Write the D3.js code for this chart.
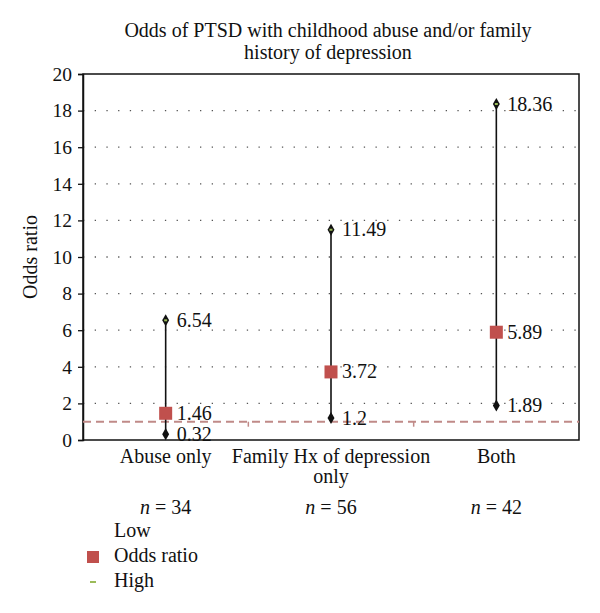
<!DOCTYPE html>
<html><head><meta charset="utf-8">
<script src="https://cdn.jsdelivr.net/npm/d3@7"></script>
<style>body{margin:0;background:#fff}svg{display:block}</style>
</head><body>
<script>
const categories = [["Abuse only"], ["Family Hx of depression", "only"], ["Both"]];
const nValues = [34, 56, 42];
const lowValues = [0.32, 1.2, 1.89];
const oddsValues = [1.46, 3.72, 5.89];
const highValues = [6.54, 11.49, 18.36];
const lowLabels = ["0.32", "1.2", "1.89"];
const oddsLabels = ["1.46", "3.72", "5.89"];
const highLabels = ["6.54", "11.49", "18.36"];
const yTicks = [0, 2, 4, 6, 8, 10, 12, 14, 16, 18, 20];
const refValue = 1;
const titleLines = ["Odds of PTSD with childhood abuse and/or family", "history of depression"];
const legendItems = ["Low", "Odds ratio", "High"];

const FONT = "'Liberation Serif'";
const FS = 20;
const W = 600, H = 613;
const svg = d3.select("body").append("svg").attr("width", W).attr("height", H)
  .attr("font-family", FONT);
const m = {l: 83, r: 21, t: 74, b: 173};
const x = d3.scaleBand().domain(d3.range(categories.length)).range([m.l, W - m.r]);
const y = d3.scaleLinear().domain([0, 20]).range([H - m.b, m.t]);
const cx = i => x(i) + x.bandwidth() / 2;
const T = (sel) => sel.attr("font-family", FONT).attr("fill", "#111");

// title
T(svg.selectAll("text.title").data(titleLines).join("text")
  .attr("x", 328).attr("y", (d, i) => 37 + i * 22).attr("text-anchor", "middle")
  .attr("font-size", FS).text(d => d));

// gridlines dotted
svg.append("g").selectAll("line").data(yTicks.filter(t => t > 0 && t < 20)).join("line")
  .attr("x1", m.l).attr("x2", W - m.r).attr("y1", d => y(d)).attr("y2", d => y(d))
  .attr("stroke", "#555").attr("stroke-width", 1.3).attr("stroke-dasharray", "1.3,10.4");

// frame
svg.append("rect").attr("x", m.l).attr("y", m.t).attr("width", W - m.r - m.l).attr("height", y(0) - m.t)
  .attr("fill", "none").attr("stroke", "#111").attr("stroke-width", 1.5);

// y axis
const yAxis = svg.append("g").attr("transform", `translate(${m.l},0)`)
  .call(d3.axisLeft(y).tickValues(yTicks).tickSize(5).tickPadding(6));
yAxis.attr("font-family", FONT).attr("font-size", 19.5);
yAxis.select(".domain").attr("stroke", "#111").attr("stroke-width", 1.5);
yAxis.selectAll(".tick line").attr("stroke", "#111").attr("stroke-width", 1.3);
T(yAxis.selectAll(".tick text")).attr("font-size", 19.5);

T(svg.append("text").attr("transform", `translate(37,${(y(0) + y(20)) / 2}) rotate(-90)`)
  .attr("text-anchor", "middle").attr("font-size", FS).text("Odds ratio"));

// reference dashed line
svg.append("line").attr("x1", m.l).attr("x2", W - m.r).attr("y1", y(refValue)).attr("y2", y(refValue))
  .attr("stroke", "#c08a88").attr("stroke-width", 2).attr("stroke-dasharray", "8,5");
svg.append("g").selectAll("line").data([1, 2]).join("line")
  .attr("x1", d => x(d)).attr("x2", d => x(d)).attr("y1", y(refValue)).attr("y2", y(refValue) + 5)
  .attr("stroke", "#c08a88").attr("stroke-width", 1.5);

// whiskers
const g = svg.append("g");
g.selectAll("line.w").data(d3.range(categories.length)).join("line")
  .attr("x1", cx).attr("x2", cx).attr("y1", i => y(lowValues[i])).attr("y2", i => y(highValues[i]))
  .attr("stroke", "#111").attr("stroke-width", 1.6);

const diamond = d3.symbol().type(d3.symbolDiamond).size(42);
g.selectAll("path.low").data(d3.range(categories.length)).join("path")
  .attr("d", diamond).attr("transform", i => `translate(${cx(i)},${y(lowValues[i])})`).attr("fill", "#111");
g.selectAll("path.high").data(d3.range(categories.length)).join("path")
  .attr("d", diamond).attr("transform", i => `translate(${cx(i)},${y(highValues[i])})`).attr("fill", "#111");
g.selectAll("rect.hc").data(d3.range(categories.length)).join("rect")
  .attr("x", i => cx(i) - 1.5).attr("y", i => y(highValues[i]) - 1).attr("width", 3).attr("height", 2)
  .attr("fill", "#9bbb59");
g.selectAll("rect.or").data(d3.range(categories.length)).join("rect")
  .attr("x", i => cx(i) - 6.5).attr("y", i => y(oddsValues[i]) - 6.5).attr("width", 13).attr("height", 13)
  .attr("fill", "#c0504d");

// value labels
const lab = (vals, labels) => T(g.append("g").selectAll("text").data(d3.range(categories.length)).join("text")
  .attr("x", i => cx(i) + 11).attr("y", i => y(vals[i]) + 6.5)
  .attr("font-size", FS).text(i => labels[i]));
lab(lowValues, lowLabels); lab(oddsValues, oddsLabels); lab(highValues, highLabels);

// x labels
categories.forEach((lines, i) => {
  lines.forEach((t, j) => {
    T(svg.append("text").attr("x", cx(i)).attr("y", 463 + j * 20).attr("text-anchor", "middle")
      .attr("font-size", FS).text(t));
  });
  const nt = T(svg.append("text").attr("x", cx(i)).attr("y", 514).attr("text-anchor", "middle").attr("font-size", FS));
  nt.append("tspan").attr("font-style", "italic").text("n");
  nt.append("tspan").text(" = " + nValues[i]);
});

// legend
const ly = [537, 562, 587];
legendItems.forEach((t, i) => {
  T(svg.append("text").attr("x", 114).attr("y", ly[i]).attr("font-size", FS).text(t));
});
svg.append("rect").attr("x", 87).attr("y", ly[1] - 11).attr("width", 12).attr("height", 12).attr("fill", "#c0504d");
svg.append("rect").attr("x", 90).attr("y", ly[2] - 6).attr("width", 6).attr("height", 2).attr("fill", "#9bbb59");
</script>
</body></html>
